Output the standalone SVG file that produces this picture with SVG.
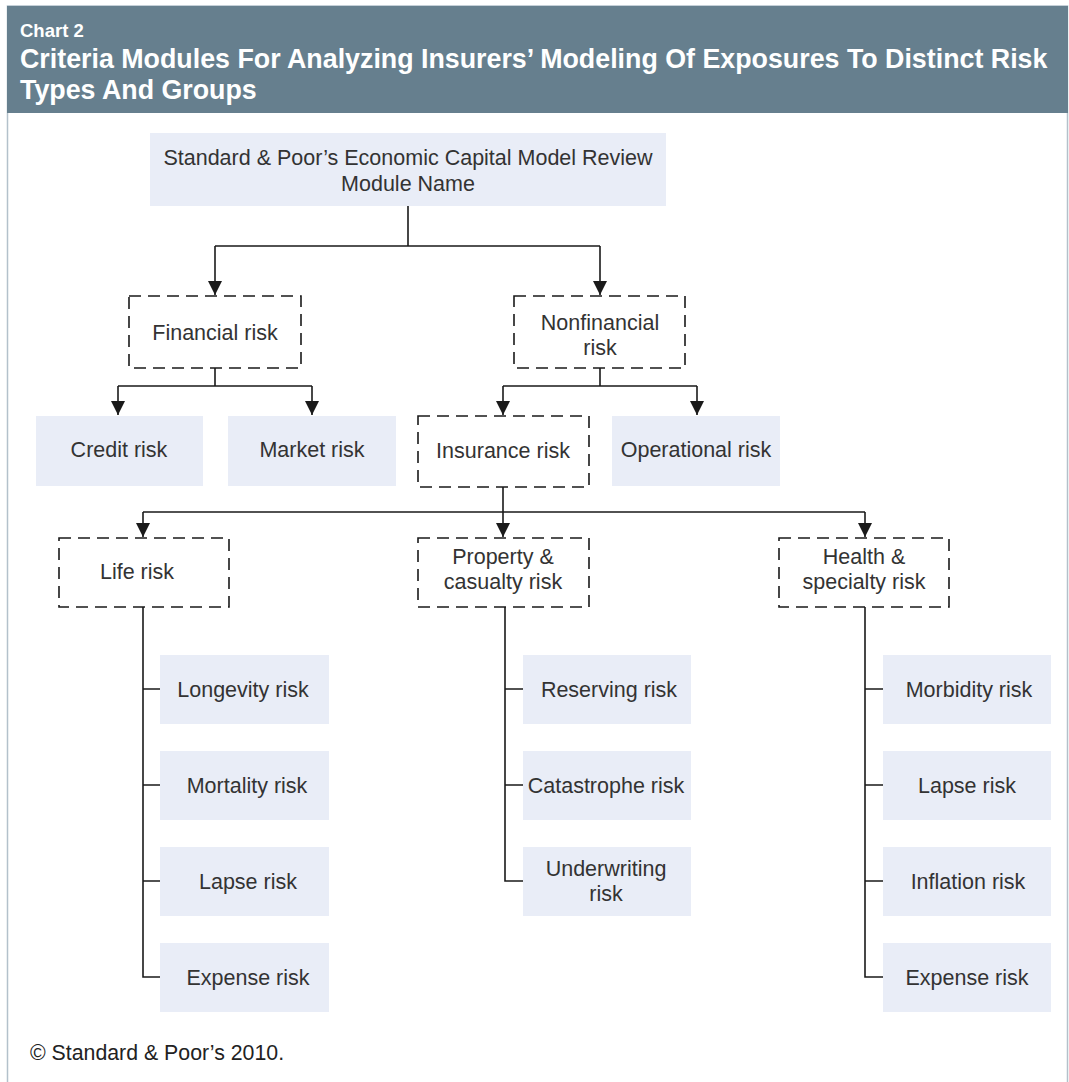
<svg xmlns="http://www.w3.org/2000/svg" width="1069" height="1082" viewBox="0 0 1069 1082">
<style>
.hdr{font-family:"Liberation Sans",Arial,sans-serif;font-weight:bold;fill:#ffffff}
.t{font-family:"Liberation Sans",Arial,sans-serif;font-size:21.5px;fill:#333333;text-anchor:middle}
.solid{fill:#e9edf7}
.dash{fill:#ffffff;stroke:#1a1a1a;stroke-width:1.6;stroke-dasharray:12 7}
.ln{fill:none;stroke:#1a1a1a;stroke-width:1.6}
</style>
<defs>
<marker id="ah2" viewBox="0 0 10 10" refX="10" refY="5" markerWidth="14" markerHeight="14" markerUnits="userSpaceOnUse" orient="auto">
<path d="M0,0 L10,5 L0,10 Z" fill="#1a1a1a"/>
</marker>
</defs>
<rect x="0" y="0" width="1069" height="1082" fill="#ffffff"/>
<rect x="7.5" y="6" width="1060" height="1080" fill="#ffffff" stroke="#b3c1cb" stroke-width="1.5"/>
<rect x="7" y="6" width="1061" height="107" fill="#667f8e"/>
<g id="header">
<text class="hdr" x="20" y="37" font-size="18.5">Chart 2</text>
<text class="hdr" x="20" y="68" font-size="26.8">Criteria Modules For Analyzing Insurers’ Modeling Of Exposures To Distinct Risk</text>
<text class="hdr" x="20" y="99" font-size="26.8">Types And Groups</text>
</g>
<g id="connectors">
<path class="ln" d="M408,206 V246 M215,246 H600"/>
<path class="ln" d="M215,246 V295" marker-end="url(#ah2)"/>
<path class="ln" d="M600,246 V295" marker-end="url(#ah2)"/>
<path class="ln" d="M215,368 V386 M118,386 H312"/>
<path class="ln" d="M118,386 V415" marker-end="url(#ah2)"/>
<path class="ln" d="M312,386 V415" marker-end="url(#ah2)"/>
<path class="ln" d="M600,368 V386 M503,386 H697"/>
<path class="ln" d="M503,386 V415" marker-end="url(#ah2)"/>
<path class="ln" d="M697,386 V415" marker-end="url(#ah2)"/>
<path class="ln" d="M503,487 V512 M143,512 H865"/>
<path class="ln" d="M143,512 V537" marker-end="url(#ah2)"/>
<path class="ln" d="M503,512 V537" marker-end="url(#ah2)"/>
<path class="ln" d="M865,512 V537" marker-end="url(#ah2)"/>
<path class="ln" d="M143,607 V977 H160 M143,689 H160 M143,785 H160 M143,881 H160"/>
<path class="ln" d="M505,607 V881 H523 M505,689 H523 M505,785 H523"/>
<path class="ln" d="M865,607 V977 H883 M865,689 H883 M865,785 H883 M865,881 H883"/>
</g>
<g id="n-top"><rect class="solid" x="150" y="133" width="516" height="73"/><text class="t" x="408" y="165">Standard &amp; Poor’s Economic Capital Model Review</text><text class="t" x="408" y="191">Module Name</text></g>
<g id="n-financial"><rect class="dash" x="129" y="296" width="172" height="72"/><text class="t" x="215" y="340">Financial risk</text></g>
<g id="n-nonfinancial"><rect class="dash" x="514" y="296" width="171" height="72"/><text class="t" x="600" y="330">Nonfinancial</text><text class="t" x="600" y="355">risk</text></g>
<g id="n-credit"><rect class="solid" x="36" y="416" width="167" height="70"/><text class="t" x="119" y="457">Credit risk</text></g>
<g id="n-market"><rect class="solid" x="228" y="416" width="168" height="70"/><text class="t" x="312" y="457">Market risk</text></g>
<g id="n-insurance"><rect class="dash" x="418" y="416" width="171" height="71"/><text class="t" x="503" y="458">Insurance risk</text></g>
<g id="n-operational"><rect class="solid" x="612" y="416" width="168" height="70"/><text class="t" x="696" y="457">Operational risk</text></g>
<g id="n-life"><rect class="dash" x="59" y="538" width="170" height="69"/><text class="t" x="137" y="579">Life risk</text></g>
<g id="n-pc"><rect class="dash" x="418" y="538" width="171" height="69"/><text class="t" x="503" y="564">Property &amp;</text><text class="t" x="503" y="589">casualty risk</text></g>
<g id="n-health"><rect class="dash" x="779" y="538" width="170" height="69"/><text class="t" x="864" y="564">Health &amp;</text><text class="t" x="864" y="589">specialty risk</text></g>
<g id="n-longevity"><rect class="solid" x="160" y="655" width="169" height="69"/><text class="t" x="243" y="697">Longevity risk</text></g>
<g id="n-mortality"><rect class="solid" x="160" y="751" width="169" height="69"/><text class="t" x="247" y="793">Mortality risk</text></g>
<g id="n-lapse1"><rect class="solid" x="160" y="847" width="169" height="69"/><text class="t" x="248" y="889">Lapse risk</text></g>
<g id="n-expense1"><rect class="solid" x="160" y="943" width="169" height="69"/><text class="t" x="248" y="985">Expense risk</text></g>
<g id="n-reserving"><rect class="solid" x="523" y="655" width="168" height="69"/><text class="t" x="609" y="697">Reserving risk</text></g>
<g id="n-catastrophe"><rect class="solid" x="523" y="751" width="168" height="69"/><text class="t" x="606" y="793">Catastrophe risk</text></g>
<g id="n-underwriting"><rect class="solid" x="523" y="847" width="168" height="69"/><text class="t" x="606" y="876">Underwriting</text><text class="t" x="606" y="901">risk</text></g>
<g id="n-morbidity"><rect class="solid" x="883" y="655" width="168" height="69"/><text class="t" x="969" y="697">Morbidity risk</text></g>
<g id="n-lapse2"><rect class="solid" x="883" y="751" width="168" height="69"/><text class="t" x="967" y="793">Lapse risk</text></g>
<g id="n-inflation"><rect class="solid" x="883" y="847" width="168" height="69"/><text class="t" x="968" y="889">Inflation risk</text></g>
<g id="n-expense2"><rect class="solid" x="883" y="943" width="168" height="69"/><text class="t" x="967" y="985">Expense risk</text></g>
<text id="copyright" x="30" y="1060" font-family="'Liberation Sans',Arial,sans-serif" font-size="21.3" fill="#222222">© Standard &amp; Poor’s 2010.</text>
</svg>
